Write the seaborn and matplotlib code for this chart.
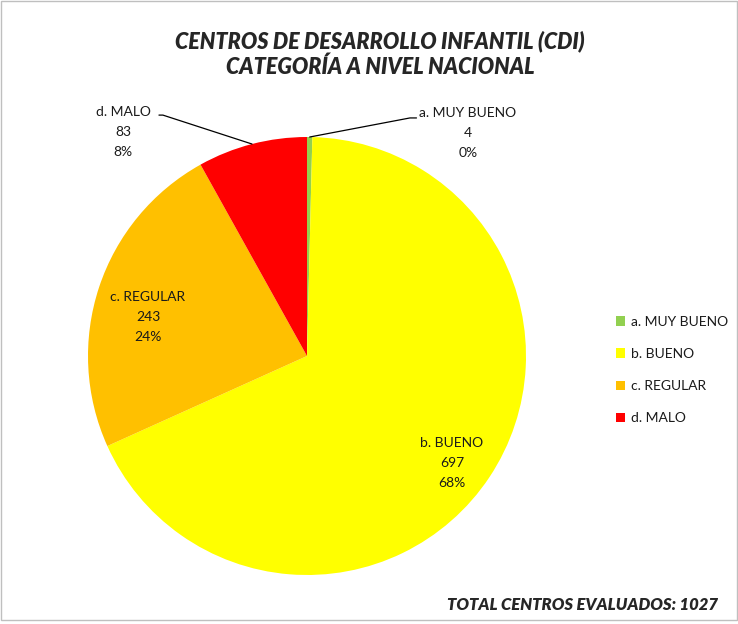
import matplotlib
matplotlib.use("Agg")
import matplotlib.pyplot as plt
import seaborn as sns
import numpy as np
from matplotlib.patches import Rectangle, Patch

sns.set_theme(style="white")
plt.rcParams['font.family'] = ['Lato', 'DejaVu Sans']

# data
categories = ['a. MUY BUENO', 'b. BUENO', 'c. REGULAR', 'd. MALO']
counts = [4, 697, 243, 83]
colors = ['#92D050', '#FFFF00', '#FFC000', '#FF0000']
title = 'CENTROS DE DESARROLLO INFANTIL (CDI)\nCATEGORÍA A NIVEL NACIONAL'
total_label = 'TOTAL CENTROS EVALUADOS: 1027'

fig = plt.figure(figsize=(7.38, 6.24), dpi=100)
ax = fig.add_axes([88 / 738, 49 / 624, 438 / 738, 438 / 624])

wedges, _ = ax.pie(counts, colors=colors, startangle=90, counterclock=False,
                   radius=1, wedgeprops=dict(linewidth=0))
ax.set_xlim(-1, 1)
ax.set_ylim(-1, 1)
ax.set_aspect('equal')
ax.axis('off')

total = sum(counts)
pcts = ['%d%%' % round(100 * c / total) for c in counts]

# label positions (axes data units) and leader lines
label_pos = [(0.735, 1.018), (0.662, -0.489), (-0.726, 0.178), (-0.84, 1.023)]
leader = {0: [(0.47, 1.087), (0.50, 1.087)], 3: [(-0.658, 1.10), (-0.676, 1.10)]}

for i, w in enumerate(wedges):
    txt = '%s\n%d\n%s' % (categories[i], counts[i], pcts[i])
    ax.text(label_pos[i][0], label_pos[i][1], txt, ha='center', va='center',
            fontsize=10, linespacing=1.8, color='#1a1a1a', clip_on=False)
    if i in leader:
        ang = np.deg2rad((w.theta1 + w.theta2) / 2)
        xs = [np.cos(ang)] + [p[0] for p in leader[i]]
        ys = [np.sin(ang)] + [p[1] for p in leader[i]]
        ax.plot(xs, ys, color='black', lw=0.9, clip_on=False)

handles = [Patch(facecolor=c, edgecolor='none') for c in colors]
fig.legend(handles, categories, loc='center left', bbox_to_anchor=(603 / 738, 1 - 370 / 624),
           frameon=False, fontsize=10, handlelength=0.65, handleheight=0.65,
           handletextpad=0.45, labelspacing=1.45, labelcolor='#1a1a1a')

fig.text(380 / 738, 1 - 54 / 624, title, ha='center', va='center', fontsize=15.5,
         fontweight='heavy', fontstyle='italic', linespacing=1.25)
fig.text(718 / 738, 1 - 605 / 624, total_label, ha='right', va='center', fontsize=12,
         fontweight='heavy', fontstyle='italic')

fig.patches.append(Rectangle((0.001, 0.006), 0.997, 0.992, transform=fig.transFigure,
                             fill=False, edgecolor='#BFBFBF', lw=1))

fig.savefig('out.png', dpi=100)
